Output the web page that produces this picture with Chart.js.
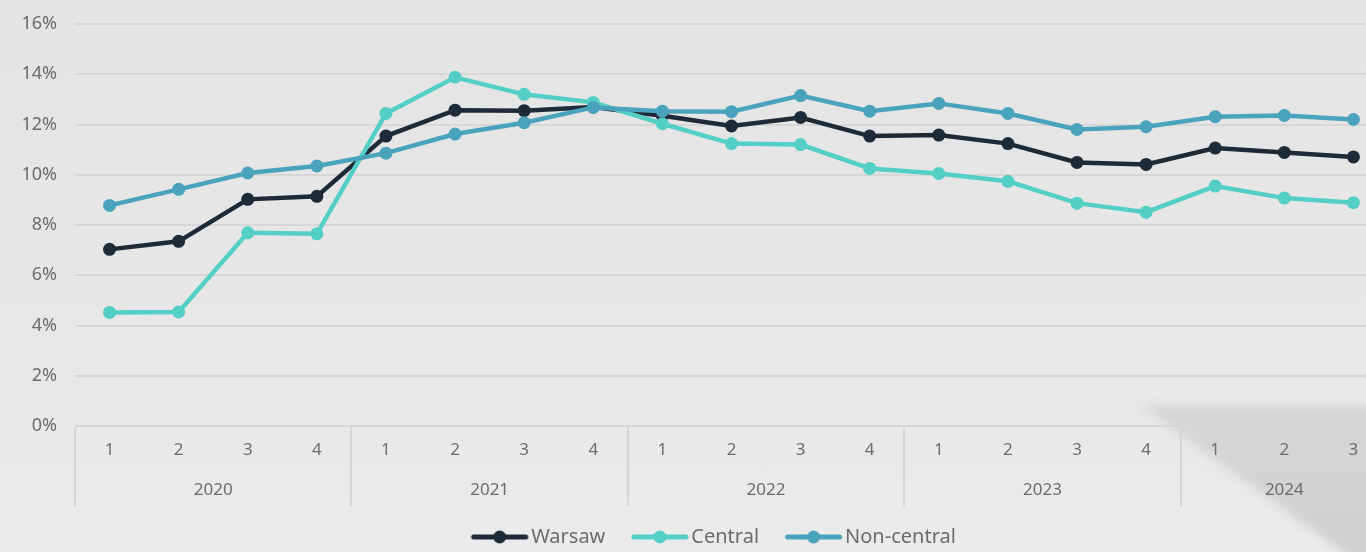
<!DOCTYPE html>
<html>
<head>
<meta charset="utf-8">
<script src="https://cdn.jsdelivr.net/npm/chart.js@4.4.1/dist/chart.umd.min.js"></script>
<style>
  html, body { margin:0; padding:0; width:1366px; height:552px; overflow:hidden;
    background: linear-gradient(to bottom, #e4e4e4 0%, #e8e8e8 70%, #ebebeb 100%); }
  #shadowWrap { position:absolute; left:1120px; top:395px; width:260px; height:170px; filter: blur(5px); }
  #shadow { position:absolute; left:20px; top:10px; width:240px; height:160px;
    clip-path: polygon(0 0, 100% 0, 100% 100%, 92% 100%);
    background: linear-gradient(to bottom, rgba(200,200,200,0.55), rgba(205,205,205,0.95)); }
  #wrap { position:absolute; left:0; top:0; width:1400px; height:552px; }
</style>
</head>
<body>
<div id="shadowWrap"><div id="shadow"></div></div>
<div id="wrap"><canvas id="c"></canvas></div>
<script>
const quarters = ['1','2','3','4','1','2','3','4','1','2','3','4','1','2','3','4','1','2','3'];
const years = ['2020','2021','2022','2023','2024'];
const quartersPerYear = [4,4,4,4,3];
const warsaw = [7.03,7.35,9.02,9.14,11.54,12.57,12.55,12.70,12.35,11.94,12.28,11.54,11.58,11.24,10.49,10.41,11.06,10.89,10.71];
const central = [4.52,4.54,7.69,7.65,12.44,13.88,13.20,12.88,12.03,11.24,11.20,10.25,10.05,9.74,8.87,8.51,9.55,9.07,8.89];
const nonCentral = [8.78,9.42,10.07,10.35,10.86,11.62,12.07,12.68,12.53,12.51,13.15,12.53,12.84,12.44,11.80,11.91,12.31,12.36,12.20];
const yTicks = [0,2,4,6,8,10,12,14,16];

const COLORS = { warsaw:'#1d2a38', central:'#53cfc5', nonCentral:'#4aa3bd' };
const FONT = '"Noto Sans", "DejaVu Sans", sans-serif';
const TEXT = '#6c6c6c';

// legend icon: line + dot, shifted right so it sits just before the text
function legendIcon(color){
  const c = document.createElement('canvas');
  c.width = 130; c.height = 16;
  const g = c.getContext('2d');
  g.strokeStyle = color; g.lineWidth = 5; g.lineCap = 'round';
  g.beginPath(); g.moveTo(55,8); g.lineTo(107,8); g.stroke();
  g.fillStyle = color; g.beginPath(); g.arc(81,8,6.5,0,Math.PI*2); g.fill();
  return c;
}

const yearPlugin = {
  id: 'yearGroups',
  afterDraw(chart){
    const xs = chart.scales.x, ctx = chart.ctx;
    const bottom = chart.chartArea.bottom;
    const half = (xs.getPixelForValue(1) - xs.getPixelForValue(0)) / 2;
    ctx.save();
    ctx.strokeStyle = '#d5d5d5';
    ctx.lineWidth = 2;
    ctx.fillStyle = TEXT;
    ctx.font = '17px ' + FONT;
    ctx.textAlign = 'center';
    ctx.textBaseline = 'middle';
    let idx = 0;
    years.forEach((yr, k) => {
      const n = quartersPerYear[k];
      const x0 = xs.getPixelForValue(idx) - half;
      const x1 = xs.getPixelForValue(idx + n - 1) + half;
      ctx.beginPath(); ctx.moveTo(Math.round(x0), bottom); ctx.lineTo(Math.round(x0), bottom + 80); ctx.stroke();
      if (k === years.length - 1) {
        ctx.beginPath(); ctx.moveTo(Math.round(x1), bottom); ctx.lineTo(Math.round(x1), bottom + 80); ctx.stroke();
      }
      ctx.fillText(yr, (x0 + x1) / 2, bottom + 64);
      idx += n;
    });
    ctx.restore();
  }
};

const mk = (label, data, color, order) => ({
  label, data, order,
  borderColor: color, backgroundColor: color,
  pointBackgroundColor: color, pointBorderColor: color,
  borderWidth: 4.5, pointRadius: 6.5, pointHoverRadius: 6.5, pointBorderWidth: 0,
  tension: 0, pointStyle: 'circle'
});

const icons = [legendIcon(COLORS.warsaw), legendIcon(COLORS.central), legendIcon(COLORS.nonCentral)];

new Chart(document.getElementById('c'), {
  type: 'line',
  data: {
    labels: quarters,
    datasets: [
      mk('Warsaw', warsaw, COLORS.warsaw, 2),
      mk('Central', central, COLORS.central, 1),
      mk('Non-central', nonCentral, COLORS.nonCentral, 0)
    ]
  },
  options: {
    responsive: true,
    maintainAspectRatio: false,
    animation: false,
    layout: { autoPadding: false, padding: { left: 14, right: 12, top: 24, bottom: -5 } },
    plugins: {
      tooltip: { enabled: false },
      legend: {
        position: 'bottom',
        labels: {
          usePointStyle: true,
          pointStyleWidth: 75,
          color: TEXT,
          font: { family: FONT, size: 20 },
          padding: 1,
          generateLabels(chart){
            return chart.data.datasets.map((ds, i) => ({
              text: ds.label, pointStyle: icons[i], fillStyle: ds.borderColor,
              strokeStyle: ds.borderColor, lineWidth: 0, datasetIndex: i, fontColor: TEXT, hidden: false
            }));
          }
        }
      }
    },
    scales: {
      x: {
        type: 'category',
        offset: true,
        grid: { display: false, drawTicks: false },
        border: { display: false },
        ticks: { color: TEXT, font: { family: FONT, size: 17 }, padding: 14, maxRotation: 0, autoSkip: false },
        afterFit(scale){ scale.height = 100; }
      },
      y: {
        min: 0, max: 16,
        afterBuildTicks(scale){ scale.ticks = yTicks.map(v => ({ value: v })); },
        grid: { color: '#d7d7d7', lineWidth: 2, drawTicks: false },
        border: { display: false },
        ticks: { color: TEXT, font: { family: FONT, size: 18, lineHeight: 0.6 }, padding: 18, callback: v => v + '%' },
        afterFit(scale){ scale.width = 61; }
      }
    }
  },
  plugins: [yearPlugin]
});
</script>
</body>
</html>
